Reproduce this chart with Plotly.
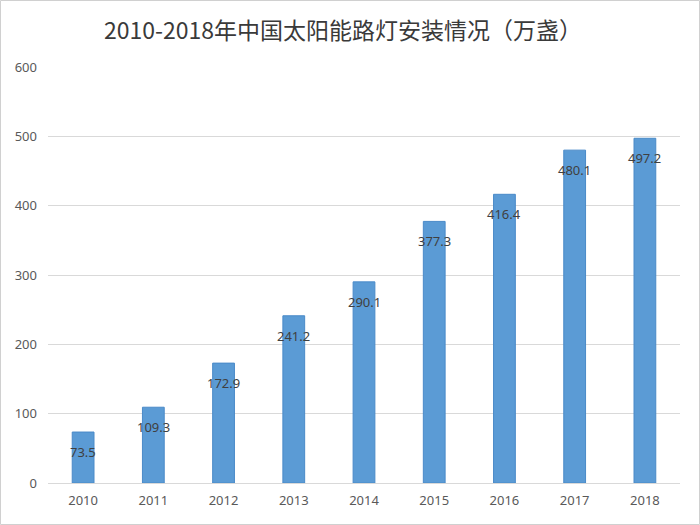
import plotly.graph_objects as go

years = ["2010", "2011", "2012", "2013", "2014", "2015", "2016", "2017", "2018"]
values = [73.5, 109.3, 172.9, 241.2, 290.1, 377.3, 416.4, 480.1, 497.2]
labels = ["73.5", "109.3", "172.9", "241.2", "290.1", "377.3", "416.4", "480.1", "497.2"]
title_text = "2010-2018年中国太阳能路灯安装情况（万盏）"

W, H = 700, 525
ml, mr, mt, mb = 48, 20, 67, 42

fig = go.Figure()
fig.add_trace(go.Bar(
    x=years, y=values,
    marker=dict(color="#5b9bd5", line=dict(color="#4a8ac8", width=1)),
    width=0.31, showlegend=False, hoverinfo="x+y",
))
for i, (v, lab) in enumerate(zip(values, labels)):
    fig.add_annotation(x=i, y=v, text=lab, showarrow=False, yshift=-20,
                       font=dict(family="Noto Sans, DejaVu Sans, sans-serif", size=13, color="#404040"))

pw = W - ml - mr
ph = H - mt - mb
fig.add_shape(type="rect", xref="paper", yref="paper",
              x0=(-ml + 0.5) / pw, x1=(pw + mr - 0.5) / pw,
              y0=(-mb + 0.5) / ph, y1=(ph + mt - 0.5) / ph,
              line=dict(color="#d0d0d0", width=1), layer="below")

fig.update_layout(
    width=W, height=H,
    margin=dict(l=ml, r=mr, t=mt, b=mb),
    paper_bgcolor="white", plot_bgcolor="white",
    title=dict(text=title_text, x=(343 - ml) / pw, xref="paper", xanchor="center",
               y=1 - 31 / H, yanchor="middle",
               font=dict(family="Noto Sans CJK SC, sans-serif", size=23, color="#3a3a3a")),
    xaxis=dict(type="category", showgrid=False, showline=False, ticks="",
               ticklabelstandoff=8,
               tickfont=dict(family="Noto Sans, sans-serif", size=13, color="#595959")),
    yaxis=dict(range=[0, 600], dtick=100, showgrid=True, gridcolor="#d9d9d9", gridwidth=1,
               zeroline=True, zerolinecolor="#d9d9d9", zerolinewidth=1,
               showline=False, ticks="", ticklabelstandoff=10,
               tickfont=dict(family="Noto Sans, sans-serif", size=13, color="#595959")),
    bargap=0.69,
)

fig.write_html("out.html")
